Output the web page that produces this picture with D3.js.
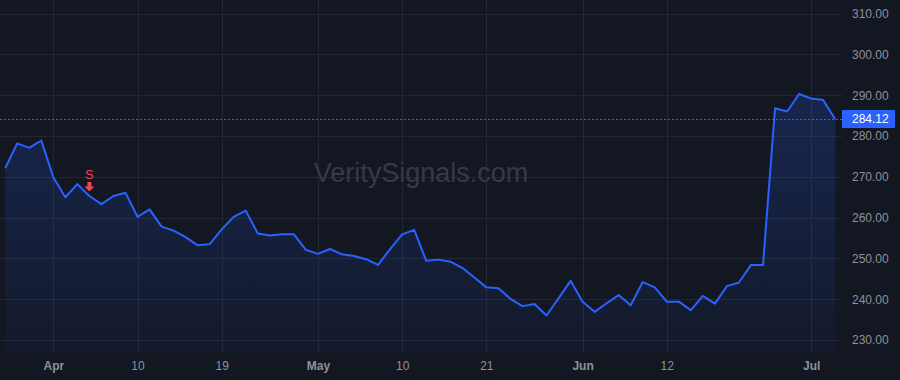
<!DOCTYPE html>
<html>
<head>
<meta charset="utf-8">
<script src="https://cdn.jsdelivr.net/npm/d3@7"></script>
<style>
  html, body { margin: 0; padding: 0; background: #131722; }
  svg { display: block; font-family: "Liberation Sans", Arial, sans-serif; }
</style>
</head>
<body>
<div id="chart"></div>
<script>
// Trading days, 2024 (holidays skipped)
const dates = [
  '2024-03-25','2024-03-26','2024-03-27','2024-03-28',
  '2024-04-01','2024-04-02','2024-04-03','2024-04-04','2024-04-05','2024-04-08','2024-04-09','2024-04-10',
  '2024-04-11','2024-04-12','2024-04-15','2024-04-16','2024-04-17','2024-04-18','2024-04-19','2024-04-22',
  '2024-04-23','2024-04-24','2024-04-25','2024-04-26','2024-04-29','2024-04-30',
  '2024-05-01','2024-05-02','2024-05-03','2024-05-06','2024-05-07','2024-05-08','2024-05-09','2024-05-10',
  '2024-05-13','2024-05-14','2024-05-15','2024-05-16','2024-05-17','2024-05-20','2024-05-21','2024-05-22',
  '2024-05-23','2024-05-24','2024-05-28','2024-05-29','2024-05-30','2024-05-31',
  '2024-06-03','2024-06-04','2024-06-05','2024-06-06','2024-06-07','2024-06-10','2024-06-11','2024-06-12',
  '2024-06-13','2024-06-14','2024-06-17','2024-06-18','2024-06-20','2024-06-21','2024-06-24','2024-06-25',
  '2024-06-26','2024-06-27','2024-06-28',
  '2024-07-01','2024-07-02','2024-07-03'
];

const closes = [
  272.1, 278.2, 277.1, 278.9,
  269.9, 265.0, 268.2, 265.3, 263.3, 265.3, 266.1, 260.2,
  262.0, 257.8, 256.8, 255.2, 253.2, 253.5, 257.1, 260.2,
  261.7, 256.1, 255.6, 255.9, 255.9, 252.1,
  251.1, 252.3, 251.0, 250.6, 249.8, 248.4, 252.3, 255.9,
  257.0, 249.4, 249.7, 249.2, 247.7, 245.3, 242.9, 242.7,
  240.1, 238.3, 238.8, 236.0, 240.2, 244.5,
  239.4, 236.9, 239.0, 241.0, 238.5, 244.2, 242.9, 239.4,
  239.4, 237.3, 240.8, 238.9, 243.2, 244.1, 248.4, 248.4,
  286.8, 286.0, 290.3,
  289.2, 288.8, 284.12
];

const timeTicks = ['2024-04-01','2024-04-10','2024-04-19','2024-05-01','2024-05-10','2024-05-21','2024-06-03','2024-06-12','2024-07-01'];
const timeTickLabels = ['Apr','10','19','May','10','21','Jun','12','Jul'];
const priceTicks = [230, 240, 250, 260, 270, 280, 290, 300, 310];

const markerDates = ['2024-04-04'];
const markerTexts = ['S'];

const width = 900, height = 380;
const plotRight = 842, plotBottom = 352;
const lineColor = '#2962ff';
const textColor = '#8d919b';
const gridColor = '#232733';
const sellColor = '#f4434f';

const svg = d3.select('#chart').append('svg')
  .attr('width', width)
  .attr('height', height);

svg.append('rect').attr('width', width).attr('height', height).attr('fill', '#131722');

const x = d3.scalePoint().domain(dates).range([5.2, 835.2]);
const y = d3.scaleLinear().domain([230, 310]).range([340, 13.6]);

// grid
const grid = svg.append('g');
grid.selectAll('.hgrid').data(priceTicks).enter().append('line')
  .attr('x1', 0).attr('x2', plotRight)
  .attr('y1', d => Math.round(y(d)) + 0.5).attr('y2', d => Math.round(y(d)) + 0.5)
  .attr('stroke', gridColor).attr('stroke-width', 1);
grid.selectAll('.vgrid').data(timeTicks).enter().append('line')
  .attr('x1', d => Math.round(x(d)) + 0.5).attr('x2', d => Math.round(x(d)) + 0.5)
  .attr('y1', 0).attr('y2', plotBottom)
  .attr('stroke', gridColor).attr('stroke-width', 1);

// watermark
svg.append('text')
  .attr('x', 421).attr('y', 182)
  .attr('text-anchor', 'middle')
  .attr('fill', '#363a46')
  .style('font-size', '27px')
  .text('VeritySignals.com');

// area gradient
const defs = svg.append('defs');
const grad = defs.append('linearGradient')
  .attr('id', 'areaFill')
  .attr('gradientUnits', 'userSpaceOnUse')
  .attr('x1', 0).attr('y1', 0).attr('x2', 0).attr('y2', plotBottom);
grad.append('stop').attr('offset', '0%').attr('stop-color', lineColor).attr('stop-opacity', 0.26);
grad.append('stop').attr('offset', '100%').attr('stop-color', lineColor).attr('stop-opacity', 0.04);

const series = dates.map((d, i) => ({ date: d, value: closes[i] }));

const area = d3.area()
  .x(d => x(d.date))
  .y0(plotBottom)
  .y1(d => y(d.value));

const line = d3.line()
  .x(d => x(d.date))
  .y(d => y(d.value));

svg.append('path').datum(series).attr('d', area).attr('fill', 'url(#areaFill)');
svg.append('path').datum(series).attr('d', line)
  .attr('fill', 'none')
  .attr('stroke', lineColor)
  .attr('stroke-width', 2)
  .attr('stroke-linejoin', 'round');

// last price line
const lastValue = closes[closes.length - 1];
const lastY = Math.round(y(lastValue)) + 0.5;
svg.append('line')
  .attr('x1', 0).attr('x2', plotRight)
  .attr('y1', lastY).attr('y2', lastY)
  .attr('stroke', lineColor).attr('stroke-width', 1)
  .attr('stroke-dasharray', '2,2');

// markers (sell arrow above bar)
markerDates.forEach((d, i) => {
  const mx = x(d);
  const my = y(closes[dates.indexOf(d)]);
  const g = svg.append('g').attr('transform', `translate(${mx},${my})`);
  g.append('path')
    .attr('d', 'M-2,-14 L2,-14 L2,-9.5 L5,-9.5 L0,-4.5 L-5,-9.5 L-2,-9.5 Z')
    .attr('fill', sellColor);
  g.append('text')
    .attr('y', -16.8)
    .attr('text-anchor', 'middle')
    .attr('fill', sellColor)
    .style('font-size', '13px')
    .text(markerTexts[i]);
});

// price axis
const yAxis = svg.append('g')
  .attr('transform', `translate(${plotRight},0)`)
  .call(d3.axisRight(y).tickValues(priceTicks).tickFormat(d3.format('.2f')).tickSize(0).tickPadding(10));
yAxis.select('.domain').remove();
yAxis.selectAll('text')
  .attr('fill', textColor)
  .style('font-size', '12px')
  .style('font-family', '"Liberation Sans", Arial, sans-serif');

// last price label
svg.append('rect')
  .attr('x', plotRight).attr('y', lastY - 9.5)
  .attr('width', 53).attr('height', 18)
  .attr('rx', 1)
  .attr('fill', lineColor);
svg.append('text')
  .attr('x', plotRight + 10).attr('y', lastY)
  .attr('dy', '0.32em')
  .attr('fill', '#ffffff')
  .style('font-size', '12px')
  .text(d3.format('.2f')(lastValue));

// time axis
const xAxis = svg.append('g')
  .attr('transform', `translate(0,${plotBottom})`)
  .call(d3.axisBottom(x).tickValues(timeTicks)
    .tickFormat(d => timeTickLabels[timeTicks.indexOf(d)])
    .tickSize(0).tickPadding(9));
xAxis.select('.domain').remove();
xAxis.selectAll('text')
  .attr('fill', textColor)
  .style('font-size', '12px')
  .style('font-family', '"Liberation Sans", Arial, sans-serif')
  .style('font-weight', d => isNaN(+timeTickLabels[timeTicks.indexOf(d)]) ? 'bold' : 'normal');
</script>
</body>
</html>
